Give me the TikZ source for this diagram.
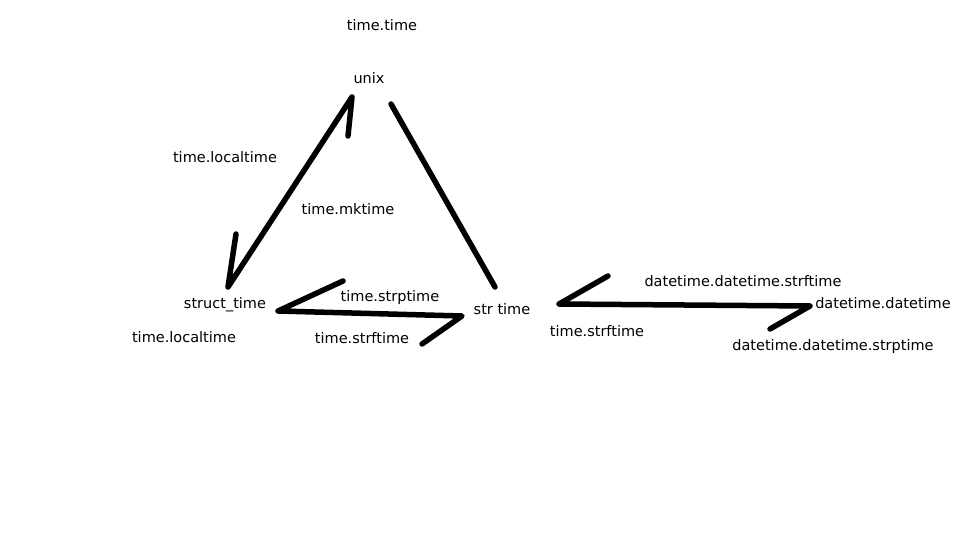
\documentclass[tikz,border=0pt]{standalone}
\usepackage{fontspec}
\setmainfont{DejaVu Sans}
\usetikzlibrary{positioning}

\begin{document}
\begin{tikzpicture}[x=1pt, y=-1pt, line width=5.5pt, line cap=round, line join=round,
  every node/.style={font=\fontsize{14.5}{17}\selectfont, inner sep=0pt}]
\useasboundingbox (0,0) rectangle (960,540);

% names
\node (tt) at (382,25) {time.time};
\node (unix) at (369,78) {unix};
\node (struct) at (225,305) {struct\_time};
\node (str) at (502,309) {str time};
\node (dtdt) at (883,303) {datetime.datetime};

% labels
\node (lt1) at (225,157) {time.localtime};
\node (mk) at (348,209) {time.mktime};
\node (lt2) at (184,337) {time.localtime};
\node (sp) at (390,297) {time.strptime};
\node (sf1) at (362,338) {time.strftime};
\node (sf2) at (597,331) {time.strftime};
\node (dsf) at (743,281) {datetime.datetime.strftime};
\node (dsp) at (833,346) {datetime.datetime.strptime};

% line ends
\coordinate (us) at (228,287);
\coordinate (uu) at (352,97);
\coordinate (hs) at (236,234);
\coordinate (hu) at (348,136);
\coordinate (ru) at (391,104);
\coordinate (rs) at (495,287);
\coordinate (ss) at (278,311);
\coordinate (st) at (462,316);
\coordinate (hss) at (343,281);
\coordinate (hst) at (422,344);
\coordinate (ts) at (559,304);
\coordinate (td) at (810,306);
\coordinate (hts) at (608,276);
\coordinate (htd) at (770,329);

\draw (hs) -- (us) -- (uu) -- (hu);
\draw (ru) -- (rs);
\draw (hss) -- (ss) -- (st) -- (hst);
\draw (hts) -- (ts) -- (td) -- (htd);
\end{tikzpicture}
\end{document}
